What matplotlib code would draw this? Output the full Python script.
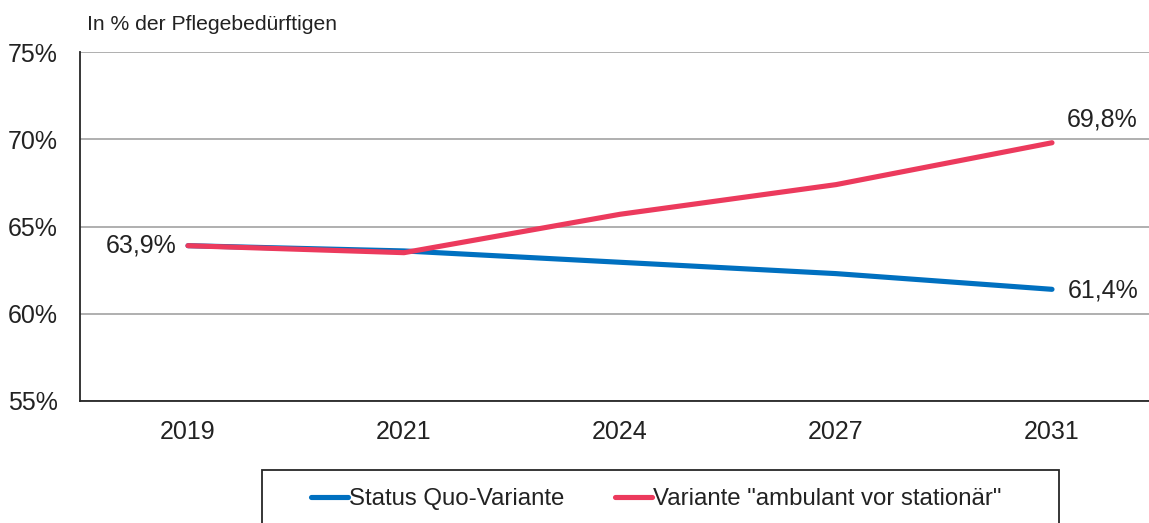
import matplotlib.pyplot as plt
from matplotlib.patches import Rectangle

plt.rcParams['font.family'] = ['Liberation Sans', 'DejaVu Sans']

# Data
years = ['2019', '2021', '2024', '2027', '2031']
status_quo = [63.9, 63.6, 62.95, 62.3, 61.4]
ambulant = [63.9, 63.5, 65.7, 67.4, 69.8]
series_names = ['Status Quo-Variante', 'Variante "ambulant vor stationär"']
y_ticks = [55, 60, 65, 70, 75]

blue = '#0070C0'
red = '#EC3A5D'
text_col = '#222222'

fig = plt.figure(figsize=(11.49, 5.23), dpi=100)
ax = fig.add_axes([80 / 1149, 1 - 401 / 523, 1080 / 1149, 349 / 523])

x = list(range(len(years)))
ax.plot(x, status_quo, color=blue, lw=3.7, solid_capstyle='round', label=series_names[0], zorder=3)
ax.plot(x, ambulant, color=red, lw=3.7, solid_capstyle='round', label=series_names[1], zorder=4)

ax.set_xlim(-0.5, 4.5)
ax.set_ylim(55, 75)
ax.set_xticks(x)
ax.set_xticklabels(years)
ax.set_yticks(y_ticks)
ax.set_yticklabels([f'{v}%' for v in y_ticks])
ax.tick_params(axis='both', length=0, labelsize=18, colors=text_col)
ax.tick_params(axis='y', pad=16)
ax.tick_params(axis='x', pad=14)

ax.grid(axis='y', color='#9a9a9a', lw=1.1)
ax.set_axisbelow(True)
for side in ['top', 'right']:
    ax.spines[side].set_visible(False)
for side in ['left', 'bottom']:
    ax.spines[side].set_color('#262626')
    ax.spines[side].set_linewidth(1.3)


def fmt(v):
    return f'{v:.1f}%'.replace('.', ',')


# Data labels
ax.annotate(fmt(status_quo[0]), (x[0], status_quo[0]), xytext=(-8, 0), textcoords='offset points',
            ha='right', va='center', fontsize=18, color=text_col)
ax.annotate(fmt(ambulant[-1]), (x[-1], ambulant[-1]), xytext=(36, 17), textcoords='offset points',
            ha='center', va='center', fontsize=18, color=text_col)
ax.annotate(fmt(status_quo[-1]), (x[-1], status_quo[-1]), xytext=(11, -1), textcoords='offset points',
            ha='left', va='center', fontsize=18, color=text_col)

fig.text(87 / 1149, 1 - 25 / 523, 'In % der Pflegebedürftigen', ha='left', va='center',
         fontsize=15.2, color=text_col)

# Legend box (runs off the bottom edge like in the original)
fig.patches.append(Rectangle((262 / 1149, -0.05), (1059 - 262) / 1149, (1 - 470 / 523) + 0.05,
                             transform=fig.transFigure, fill=False, edgecolor='#262626', lw=1.3))
fig.legend(loc='center left', bbox_to_anchor=(301 / 1149, 1 - 499 / 523), ncol=2, frameon=False,
           fontsize=17.3, handlelength=1.55, handletextpad=0.05, columnspacing=2.1,
           labelcolor=text_col, borderaxespad=0)

fig.savefig('out.png', dpi=100)
